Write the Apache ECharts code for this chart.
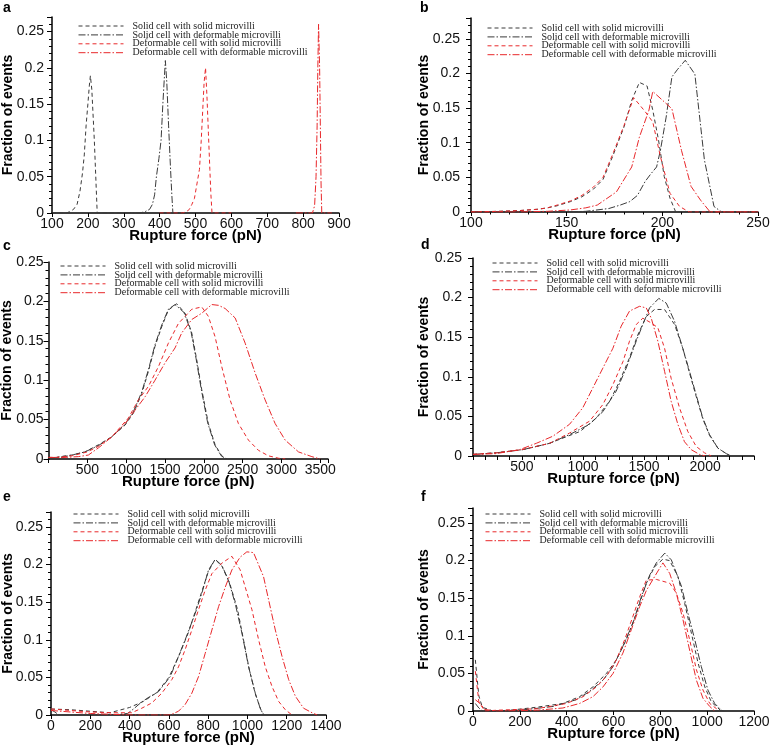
<!DOCTYPE html>
<html>
<head>
<meta charset="utf-8">
<title>Rupture force distributions</title>
<script src="https://cdn.jsdelivr.net/npm/echarts@6/dist/echarts.min.js"></script>
<style>
  html, body { margin: 0; padding: 0; background: #fff; }
  #chart { width: 770px; height: 745px; }
</style>
</head>
<body>
<div id="chart"></div>
<script>
"use strict";

/* =====================================================
   Data — [rupture force (pN), fraction of events]
   ===================================================== */
const SERIES_NAMES = [
  "Solid cell with solid microvilli",
  "Solid cell with deformable microvilli",
  "Deformable cell with solid microvilli",
  "Deformable cell with deformable microvilli"
];

// panel a
const aSolidSolid = [[100,0],[140,0],[150,0.002],[160,0.005],[170,0.012],[178,0.03],[185,0.055],[190,0.08],[195,0.12],[200,0.15],[204,0.175],[207,0.189],[211,0.17],[215,0.13],[218,0.1],[222,0.05],[226,0],[300,0]];
const aSolidDef   = [[300,0],[345,0],[360,0.002],[372,0.005],[380,0.012],[386,0.025],[391,0.05],[398,0.075],[404,0.1],[409,0.15],[413,0.185],[416,0.21],[420,0.18],[425,0.12],[430,0.065],[434,0.025],[437,0],[460,0]];
const aDefSolid   = [[400,0],[465,0],[475,0.002],[483,0.005],[490,0.012],[497,0.02],[504,0.04],[511,0.06],[516,0.1],[520,0.14],[524,0.18],[528,0.2],[532,0.16],[536,0.11],[540,0.06],[543,0.025],[546,0],[600,0]];
const aDefDef     = [[780,0],[826,0],[832,0.01],[836,0.05],[839,0.12],[841,0.2],[843,0.26],[846,0.2],[848,0.12],[850,0.04],[852,0],[880,0]];

// panel b
const bSolidSolid = [[100,0],[115,0.001],[125,0.002],[135,0.004],[140,0.006],[145,0.009],[152,0.015],[158,0.022],[164,0.033],[169,0.047],[174,0.08],[180,0.123],[184,0.161],[188,0.187],[192,0.182],[195,0.147],[198,0.104],[201,0.051],[204,0.02],[207,0],[250,0]];
const bSolidDef   = [[100,0],[150,0],[160,0.001],[172,0.005],[178,0.01],[183,0.015],[187,0.024],[191,0.044],[194,0.055],[197,0.065],[199,0.089],[202,0.137],[205,0.195],[208,0.206],[212,0.219],[217,0.199],[222,0.075],[227,0.008],[231,0],[250,0]];
const bDefSolid   = [[100,0],[115,0.001],[125,0.002],[135,0.004],[140,0.006],[145,0.01],[152,0.016],[158,0.024],[164,0.036],[169,0.05],[174,0.083],[180,0.125],[185,0.165],[191,0.145],[195,0.13],[199,0.08],[204,0.027],[209,0.008],[214,0],[250,0]];
const bDefDef     = [[100,0],[125,0],[140,0.001],[152,0.003],[160,0.006],[166,0.01],[176,0.029],[184,0.065],[188,0.108],[193,0.147],[195,0.174],[205,0.149],[210,0.089],[215,0.037],[220,0.017],[225,0],[250,0]];

// panel c
const cSolidSolid = [[0,0.002],[100,0.002],[213,0.004],[300,0.005],[470,0.009],[642,0.018],[814,0.028],[986,0.043],[1093,0.058],[1201,0.083],[1286,0.111],[1372,0.143],[1459,0.168],[1544,0.189],[1652,0.197],[1759,0.185],[1845,0.16],[1909,0.126],[1974,0.088],[2059,0.045],[2146,0.018],[2232,0.004],[2296,0]];
const cSolidDef   = [[0,0.001],[100,0.002],[213,0.003],[300,0.005],[470,0.009],[642,0.017],[814,0.028],[986,0.044],[1093,0.06],[1201,0.085],[1286,0.113],[1372,0.145],[1459,0.17],[1544,0.19],[1630,0.196],[1745,0.186],[1835,0.162],[1900,0.128],[1965,0.09],[2050,0.046],[2140,0.018],[2225,0.004],[2290,0]];
const cDefSolid   = [[0,0.002],[100,0.002],[300,0.004],[500,0.009],[642,0.016],[814,0.028],[1029,0.052],[1158,0.075],[1286,0.092],[1415,0.117],[1544,0.147],[1673,0.172],[1845,0.19],[1974,0.193],[2059,0.181],[2146,0.155],[2232,0.117],[2339,0.075],[2446,0.045],[2575,0.024],[2704,0.011],[2833,0.004],[2962,0.001],[3050,0]];
const cDefDef     = [[0,0.002],[200,0.002],[384,0.003],[513,0.005],[642,0.014],[814,0.028],[986,0.045],[1115,0.062],[1244,0.079],[1372,0.1],[1501,0.122],[1630,0.141],[1716,0.16],[1845,0.177],[1974,0.185],[2103,0.196],[2190,0.195],[2275,0.191],[2404,0.179],[2533,0.147],[2662,0.109],[2790,0.075],[2919,0.045],[3048,0.024],[3220,0.009],[3392,0.003],[3500,0]];

// panel d
const dSolidSolid = [[100,0.002],[290,0.004],[508,0.008],[727,0.016],[808,0.021],[977,0.031],[1109,0.048],[1218,0.069],[1299,0.094],[1381,0.124],[1449,0.153],[1518,0.176],[1586,0.185],[1668,0.185],[1750,0.166],[1817,0.136],[1872,0.105],[1927,0.075],[1981,0.047],[2036,0.026],[2104,0.01],[2173,0.003],[2210,0]];
const dSolidDef   = [[100,0.002],[290,0.004],[508,0.008],[727,0.016],[890,0.027],[1054,0.04],[1163,0.056],[1272,0.082],[1354,0.111],[1436,0.145],[1490,0.166],[1545,0.187],[1621,0.199],[1682,0.193],[1750,0.17],[1817,0.136],[1872,0.107],[1927,0.077],[1981,0.048],[2036,0.027],[2104,0.01],[2173,0.003],[2210,0]];
const dDefSolid   = [[100,0.002],[290,0.004],[500,0.008],[727,0.016],[890,0.029],[1054,0.044],[1163,0.065],[1245,0.09],[1327,0.119],[1381,0.145],[1436,0.166],[1490,0.174],[1559,0.168],[1613,0.162],[1668,0.136],[1722,0.098],[1790,0.061],[1858,0.031],[1927,0.012],[1995,0.004],[2050,0]];
const dDefDef     = [[100,0.002],[290,0.003],[481,0.008],[618,0.016],[754,0.025],[890,0.04],[999,0.061],[1081,0.086],[1163,0.111],[1245,0.136],[1313,0.164],[1381,0.183],[1463,0.189],[1518,0.187],[1559,0.174],[1613,0.145],[1668,0.107],[1722,0.069],[1777,0.04],[1831,0.018],[1886,0.008],[1954,0.002],[2000,0]];

// panel e
const eSolidSolid = [[0,0.008],[100,0.007],[200,0.005],[300,0.003],[400,0.01],[470,0.018],[540,0.03],[600,0.05],[650,0.078],[700,0.11],[750,0.15],[800,0.19],[835,0.207],[870,0.198],[910,0.175],[950,0.14],[980,0.1],[1010,0.06],[1040,0.028],[1070,0.006],[1085,0]];
const eSolidDef   = [[0,0.007],[20,0.004],[40,0],[300,0],[390,0.002],[420,0.008],[460,0.017],[500,0.024],[547,0.031],[607,0.051],[649,0.078],[683,0.1],[734,0.135],[768,0.162],[802,0.193],[836,0.207],[870,0.199],[904,0.179],[938,0.148],[972,0.109],[1006,0.064],[1040,0.029],[1065,0.009],[1082,0]];
const eDefSolid   = [[0,0.008],[100,0.006],[200,0.004],[309,0.003],[411,0.003],[462,0.009],[513,0.016],[564,0.029],[615,0.047],[649,0.064],[683,0.087],[717,0.113],[751,0.14],[785,0.166],[819,0.188],[870,0.202],[921,0.211],[963,0.193],[989,0.17],[1023,0.14],[1057,0.1],[1091,0.064],[1125,0.038],[1159,0.018],[1193,0.007],[1227,0]];
const eDefDef     = [[0,0.006],[100,0.004],[200,0.002],[300,0.001],[400,0],[600,0],[615,0.001],[649,0.005],[683,0.014],[717,0.029],[751,0.051],[785,0.082],[819,0.113],[853,0.144],[887,0.17],[921,0.193],[963,0.21],[997,0.217],[1031,0.216],[1082,0.184],[1108,0.153],[1142,0.113],[1176,0.078],[1210,0.047],[1244,0.025],[1286,0.009],[1329,0.003],[1355,0]];

// panel f
const fSolidSolid = [[10,0.068],[25,0.02],[40,0.005],[85,0],[157,0.001],[271,0.005],[384,0.01],[455,0.019],[512,0.032],[570,0.05],[612,0.068],[655,0.095],[698,0.13],[740,0.17],[776,0.192],[811,0.202],[840,0.2],[875,0.179],[904,0.143],[933,0.103],[961,0.064],[990,0.032],[1018,0.012],[1046,0.004],[1060,0]];
const fSolidDef   = [[10,0.01],[25,0.004],[40,0],[85,0],[199,0.001],[342,0.006],[441,0.015],[498,0.026],[555,0.041],[598,0.059],[640,0.086],[683,0.117],[719,0.152],[755,0.181],[783,0.197],[819,0.21],[847,0.201],[890,0.166],[918,0.13],[947,0.095],[975,0.059],[1003,0.028],[1032,0.01],[1061,0.001],[1070,0]];
const fDefSolid   = [[10,0.053],[25,0.012],[50,0],[100,0.001],[271,0.003],[399,0.01],[470,0.019],[527,0.032],[570,0.046],[612,0.068],[648,0.095],[683,0.126],[712,0.152],[740,0.174],[783,0.175],[840,0.17],[868,0.157],[897,0.13],[925,0.095],[954,0.055],[982,0.028],[1011,0.01],[1040,0.003],[1050,0]];
const fDefDef     = [[10,0.015],[30,0.01],[50,0.002],[100,0],[271,0.001],[384,0.004],[455,0.01],[512,0.019],[555,0.032],[598,0.05],[640,0.077],[676,0.108],[712,0.139],[740,0.16],[776,0.179],[811,0.197],[840,0.183],[868,0.157],[897,0.121],[925,0.081],[954,0.041],[982,0.017],[1011,0.006],[1032,0]];

/* =====================================================
   Panel layout
   ===================================================== */
const PANELS = [
  { letter: "a", pos: [3, 1],     grid: { left: 52,  top: 17,  width: 287, height: 196 }, x: [100, 900, 100, 0],  yMax: 0.27, legend: [78, 21],  yGap: 37, yMargin: 8,  data: [aSolidSolid, aSolidDef, aDefSolid, aDefDef] },
  { letter: "b", pos: [420, 1],   grid: { left: 471, top: 18,  width: 287, height: 194 }, x: [100, 250, 50, 5],   yMax: 0.28, legend: [487, 23], yGap: 40, yMargin: 11, data: [bSolidSolid, bSolidDef, bDefSolid, bDefDef] },
  { letter: "c", pos: [3, 239],   grid: { left: 48.5, top: 262, width: 279.5, height: 197 }, x: [0, 3600, 500, 0], yMax: 0.25, legend: [60, 261], yGap: 34, yMargin: 5,  data: [cSolidSolid, cSolidDef, cDefSolid, cDefDef] },
  { letter: "d", pos: [421, 238], grid: { left: 473, top: 258, width: 281, height: 198 }, x: [100, 2400, 100, 0], yMax: 0.25, legend: [492, 258], yGap: 42, yMargin: 11, data: [dSolidSolid, dSolidDef, dDefSolid, dDefDef] },
  { letter: "e", pos: [3, 490],   grid: { left: 51,  top: 512, width: 275, height: 203 }, x: [0, 1400, 200, 0],   yMax: 0.27, legend: [73, 509], yGap: 36, yMargin: 8,  data: [eSolidSolid, eSolidDef, eDefSolid, eDefDef] },
  { letter: "f", pos: [421, 490], grid: { left: 473, top: 508, width: 281, height: 203 }, x: [0, 1200, 200, 0],   yMax: 0.27, legend: [485, 509], yGap: 42, yMargin: 8,  data: [fSolidSolid, fSolidDef, fDefSolid, fDefDef] }
];

const LINE_STYLES = [
  { color: "#3a3a3a", type: [4, 3] },
  { color: "#3a3a3a", type: [7, 2, 1.5, 2] },
  { color: "#e8282b", type: [4, 3] },
  { color: "#e8282b", type: [7, 2, 1.5, 2] }
];

const SANS  = "Liberation Sans";
const SERIF = "Liberation Serif";

/* =====================================================
   Axis helpers
   ===================================================== */
function yLabel(v) {
  const k = Math.round(v / 0.05);
  return Math.abs(v - k * 0.05) < 1e-9 ? String(+v.toFixed(2)) : "";
}

function xLabelFor(p) {
  const step = p.letter === "d" ? 500 : p.x[2];
  return v => {
    if (p.letter === "c" && v === 0) return "";
    return Math.abs(v / step - Math.round(v / step)) < 1e-9 ? String(v) : "";
  };
}

/* =====================================================
   Build option
   ===================================================== */
function buildOption() {
  const axisLine = { show: true, onZero: false, lineStyle: { color: "#000", width: 1.5 } };

  const grid = PANELS.map(p => Object.assign({ outerBoundsMode: "none", containLabel: false }, p.grid));

  const xAxis = PANELS.map((p, i) => ({
    type: "value", gridIndex: i,
    min: p.x[0], max: p.x[1], interval: p.x[2],
    axisLine,
    axisTick: { show: true, length: 4, lineStyle: { color: "#000" } },
    minorTick: { show: p.x[3] > 0, splitNumber: p.x[3] || 5, length: 2.5, lineStyle: { color: "#000" } },
    splitLine: { show: false },
    axisLabel: { margin: 4, fontSize: 14, fontFamily: SANS, color: "#111", formatter: xLabelFor(p) },
    name: "Rupture force (pN)", nameLocation: "middle", nameGap: 15, nameMoveOverlap: false,
    nameTextStyle: { fontSize: 15, fontWeight: "bold", fontFamily: SANS, color: "#000" }
  }));

  const yAxis = PANELS.map((p, i) => ({
    type: "value", gridIndex: i,
    min: 0, max: p.yMax, interval: 0.05,
    axisLine,
    axisTick: { show: true, length: 5, lineStyle: { color: "#000" } },
    minorTick: { show: true, splitNumber: 5, length: 3, lineStyle: { color: "#000" } },
    splitLine: { show: false },
    axisLabel: { margin: p.yMargin, fontSize: 14, fontFamily: SANS, color: "#111", formatter: yLabel },
    name: "Fraction of events", nameLocation: "middle", nameGap: p.yGap, nameMoveOverlap: false,
    nameTextStyle: { fontSize: 14, fontWeight: "bold", fontFamily: SANS, color: "#000" }
  }));

  const series = [];
  PANELS.forEach((p, i) => {
    p.data.forEach((d, k) => {
      series.push({
        name: SERIES_NAMES[k], type: "line",
        xAxisIndex: i, yAxisIndex: i,
        data: d, symbol: "none", smooth: false,
        lineStyle: { color: LINE_STYLES[k].color, width: 1, type: LINE_STYLES[k].type },
        itemStyle: { color: LINE_STYLES[k].color },
        emphasis: { disabled: true }
      });
    });
  });

  // legend: dashed sample only, no marker dot
  const legend = PANELS.map(p => ({
    data: SERIES_NAMES, orient: "vertical",
    left: p.legend[0], top: p.legend[1], padding: 0,
    itemWidth: 45, itemHeight: 6, itemGap: -1.1,
    selectedMode: false,
    itemStyle: { opacity: 0 },
    lineStyle: { width: 1 },
    textStyle: { fontFamily: SERIF, fontSize: 10, color: "#222", lineHeight: 9, padding: [0, 0, 0, 4] }
  }));

  const title = PANELS.map(p => ({
    text: p.letter, left: p.pos[0], top: p.pos[1], padding: 0,
    textStyle: { fontSize: 14, fontWeight: "bold", fontFamily: SANS, color: "#000" }
  }));

  return { backgroundColor: "#fff", animation: false, title, legend, grid, xAxis, yAxis, series };
}

/* =====================================================
   Init
   ===================================================== */
document.addEventListener("DOMContentLoaded", () => {
  const chart = echarts.init(document.getElementById("chart"), null, { renderer: "canvas" });
  chart.setOption(buildOption());
});
</script>
</body>
</html>
